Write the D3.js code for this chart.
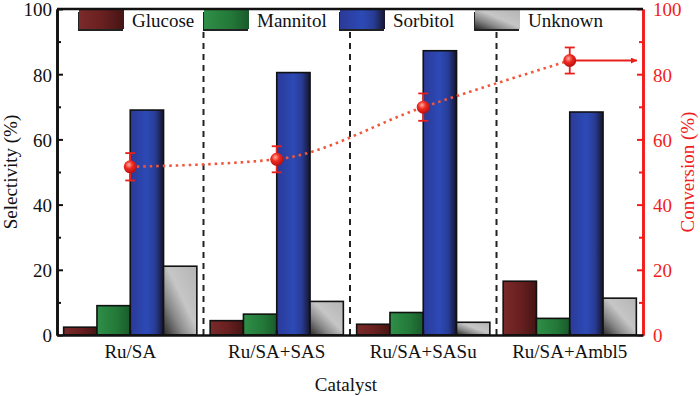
<!DOCTYPE html>
<html>
<head>
<meta charset="utf-8">
<script src="https://cdn.jsdelivr.net/npm/d3@7"></script>
<style>
    body { margin: 0; background: #fff; }
    svg { display: block; }
    svg text { font-family: "Liberation Serif", "Times New Roman", "DejaVu Serif", serif !important; }
</style>
</head>
<body>
<svg id="chart" width="700" height="396"></svg>
<script>
    // data
    var categories = ["Ru/SA", "Ru/SA+SAS", "Ru/SA+SASu", "Ru/SA+Ambl5"];
    var seriesNames = ["Glucose", "Mannitol", "Sorbitol", "Unknown"];
    var glucose = [2.4, 4.4, 3.3, 16.5];
    var mannitol = [9.0, 6.4, 6.9, 5.1];
    var sorbitol = [69.0, 80.5, 87.2, 68.4];
    var unknown = [21.1, 10.3, 3.9, 11.3];
    var conversion = [51.6, 53.9, 69.9, 84.2];
    var conversionErr = [4.2, 4.0, 4.2, 4.0];
    var yTicks = [0, 20, 40, 60, 80, 100];
    var yMinorTicks = [10, 30, 50, 70, 90];

    var seriesValues = [glucose, mannitol, sorbitol, unknown];

    var svg = d3.select("#chart");
    var margin = { top: 9, right: 57, bottom: 61, left: 57 };
    var width = 700 - margin.left - margin.right;
    var height = 396 - margin.top - margin.bottom;
    var fs = "19px";

    var defs = svg.append("defs");
    function addGradient(id, x2, y1, y2, stops) {
        var g = defs.append("linearGradient").attr("id", id)
            .attr("x1", 0).attr("y1", y1).attr("x2", x2).attr("y2", y2);
        stops.forEach(function (s) {
            g.append("stop").attr("offset", s[0]).attr("stop-color", s[1]);
        });
    }
    addGradient("g-Glucose", 1, 0, 0, [[0, "#7a2a2a"], [0.5, "#6a2020"], [1, "#451414"]]);
    addGradient("g-Mannitol", 1, 0, 0, [[0, "#2f8f48"], [0.6, "#237838"], [1, "#1a5a2c"]]);
    addGradient("g-Sorbitol", 1, 0, 0, [[0, "#2b3a98"], [0.5, "#2c4ab6"], [0.75, "#283c95"], [1, "#15152e"]]);
    addGradient("g-Unknown", 1, 1, 0, [[0, "#2a2a2a"], [0.3, "#8a8a8a"], [0.55, "#c6c6c6"], [1, "#b4b4b4"]]);

    var rg = defs.append("radialGradient").attr("id", "g-dot")
        .attr("cx", "40%").attr("cy", "35%").attr("r", "65%");
    rg.append("stop").attr("offset", 0).attr("stop-color", "#ffb0a0");
    rg.append("stop").attr("offset", 0.45).attr("stop-color", "#f02a22");
    rg.append("stop").attr("offset", 1).attr("stop-color", "#b81010");

    defs.append("marker").attr("id", "arrow")
        .attr("viewBox", "0 0 10 10").attr("refX", 10).attr("refY", 5)
        .attr("markerWidth", 4).attr("markerHeight", 3)
        .attr("orient", "auto").attr("markerUnits", "strokeWidth")
        .append("path").attr("d", "M0,0L10,5L0,10Z").attr("fill", "#e8201c");

    var g = svg.append("g").attr("transform", "translate(" + margin.left + "," + margin.top + ")");

    var x0 = d3.scaleBand().domain(categories).range([0, width]).paddingInner(0).paddingOuter(0);
    var x1 = d3.scaleBand().domain(seriesNames).range([0, x0.bandwidth()]).paddingInner(0).paddingOuter(0.2);
    var y = d3.scaleLinear().domain([0, 100]).range([height, 0]);
    var yR = d3.scaleLinear().domain([0, 100]).range([height, 0]);

    // group separators
    g.selectAll(".sep")
        .data(categories.slice(1))
        .enter().append("line")
        .attr("class", "sep")
        .attr("x1", function (d) { return x0(d); })
        .attr("x2", function (d) { return x0(d); })
        .attr("y1", 23)
        .attr("y2", height)
        .attr("stroke", "#222")
        .attr("stroke-width", 2)
        .attr("stroke-dasharray", "6,5");

    // bars
    var groups = g.selectAll(".grp")
        .data(categories)
        .enter().append("g")
        .attr("class", "grp")
        .attr("transform", function (d) { return "translate(" + x0(d) + ",0)"; });

    groups.selectAll("rect")
        .data(function (d, i) {
            return seriesNames.map(function (s, j) { return { name: s, value: seriesValues[j][i] }; });
        })
        .enter().append("rect")
        .attr("x", function (d) { return x1(d.name); })
        .attr("y", function (d) { return y(d.value); })
        .attr("width", x1.bandwidth())
        .attr("height", function (d) { return height - y(d.value); })
        .attr("fill", function (d) { return "url(#g-" + d.name + ")"; })
        .attr("stroke", "#111")
        .attr("stroke-width", 1.6);

    // conversion line
    var pts = categories.map(function (c, i) {
        return { x: x0(c) + x0.bandwidth() / 2, v: conversion[i], e: conversionErr[i] };
    });
    var line = d3.line()
        .x(function (d) { return d.x; })
        .y(function (d) { return yR(d.v); })
        .curve(d3.curveMonotoneX);
    g.append("path")
        .datum(pts)
        .attr("d", line)
        .attr("fill", "none")
        .attr("stroke", "#f2553a")
        .attr("stroke-width", 2.6)
        .attr("stroke-dasharray", "2.5,4");

    var last = pts[pts.length - 1];
    g.append("line")
        .attr("x1", last.x).attr("x2", width - 6)
        .attr("y1", yR(last.v)).attr("y2", yR(last.v))
        .attr("stroke", "#e8201c").attr("stroke-width", 2)
        .attr("marker-end", "url(#arrow)");

    var eb = g.selectAll(".eb").data(pts).enter().append("g").attr("class", "eb");
    eb.append("line")
        .attr("x1", function (d) { return d.x; }).attr("x2", function (d) { return d.x; })
        .attr("y1", function (d) { return yR(d.v + d.e); })
        .attr("y2", function (d) { return yR(d.v - d.e); })
        .attr("stroke", "#e8201c").attr("stroke-width", 1.8);
    [1, -1].forEach(function (sgn) {
        eb.append("line")
            .attr("x1", function (d) { return d.x - 5; }).attr("x2", function (d) { return d.x + 5; })
            .attr("y1", function (d) { return yR(d.v + sgn * d.e); })
            .attr("y2", function (d) { return yR(d.v + sgn * d.e); })
            .attr("stroke", "#e8201c").attr("stroke-width", 1.8);
    });
    eb.append("circle")
        .attr("cx", function (d) { return d.x; })
        .attr("cy", function (d) { return yR(d.v); })
        .attr("r", 6.5)
        .attr("fill", "url(#g-dot)");

    // legend
    var legendX = [22, 147, 283, 418];
    g.append("rect")
        .attr("x", 14).attr("y", 1).attr("width", 540).attr("height", 22)
        .attr("fill", "#fff");
    var leg = g.selectAll(".leg")
        .data(seriesNames)
        .enter().append("g")
        .attr("class", "leg")
        .attr("transform", function (d, i) { return "translate(" + legendX[i] + ",0)"; });
    leg.append("rect")
        .attr("x", -1).attr("y", 3).attr("width", 45).attr("height", 19)
        .attr("fill", "#222");
    leg.append("rect")
        .attr("x", 0).attr("y", 1).attr("width", 45).attr("height", 19)
        .attr("fill", function (d) { return "url(#g-" + d + ")"; });
    leg.append("text")
        .attr("x", 53).attr("y", 18)
        .style("font-size", fs)
        .attr("fill", "#111")
        .text(function (d) { return d; });

    // axes
    var axisL = g.append("g")
        .call(d3.axisLeft(y).tickValues(yTicks).tickSize(-6).tickSizeOuter(0).tickPadding(5));
    g.append("g")
        .call(d3.axisLeft(y).tickValues(yMinorTicks).tickSize(-4).tickSizeOuter(0).tickFormat(""));
    var axisR = g.append("g")
        .attr("transform", "translate(" + width + ",0)")
        .call(d3.axisRight(yR).tickValues(yTicks).tickSize(-6).tickSizeOuter(0).tickPadding(10));
    var axisRm = g.append("g")
        .attr("transform", "translate(" + width + ",0)")
        .call(d3.axisRight(yR).tickValues(yMinorTicks).tickSize(-4).tickSizeOuter(0).tickFormat(""));
    var axisB = g.append("g")
        .attr("transform", "translate(0," + height + ")")
        .call(d3.axisBottom(x0).tickSize(-5).tickSizeOuter(0).tickPadding(10));

    g.selectAll(".tick text").style("font-size", fs).attr("fill", "#111");
    axisL.selectAll(".tick text").attr("dy", "0.36em");
    axisR.selectAll(".tick text").attr("dy", "0.36em");
    g.selectAll(".tick line").attr("stroke", "#111").attr("stroke-width", 2);
    g.selectAll(".domain").attr("stroke", "#111").attr("stroke-width", 2.6);
    axisR.selectAll(".tick text").attr("fill", "#f21c1c");
    axisR.selectAll(".tick line").attr("stroke", "#f21c1c");
    axisRm.selectAll(".tick line").attr("stroke", "#f21c1c");
    axisR.select(".domain").attr("stroke", "#f21c1c");
    axisRm.select(".domain").attr("stroke", "#f21c1c");

    // top frame
    g.append("line")
        .attr("x1", 0).attr("x2", width).attr("y1", 0).attr("y2", 0)
        .attr("stroke", "#111").attr("stroke-width", 2.6);

    // titles
    svg.append("text")
        .attr("transform", "translate(17," + (margin.top + height / 2) + ") rotate(-90)")
        .attr("text-anchor", "middle")
        .style("font-size", fs)
        .attr("fill", "#111")
        .text("Selectivity (%)");
    svg.append("text")
        .attr("transform", "translate(694," + (margin.top + height / 2) + ") rotate(-90)")
        .attr("text-anchor", "middle")
        .style("font-size", fs)
        .attr("fill", "#f21c1c")
        .text("Conversion (%)");
    svg.append("text")
        .attr("x", 346).attr("y", 391)
        .attr("text-anchor", "middle")
        .style("font-size", fs)
        .attr("fill", "#111")
        .text("Catalyst");
</script>
</body>
</html>
